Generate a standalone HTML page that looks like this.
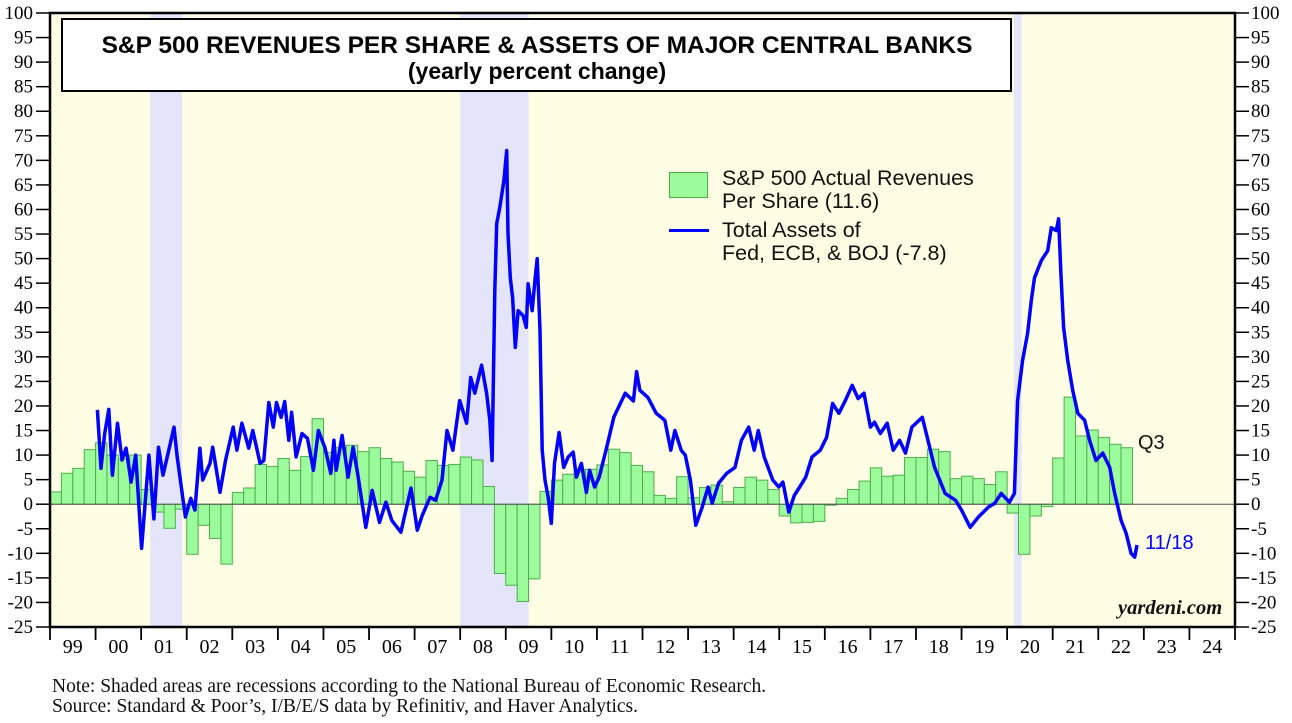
<!DOCTYPE html>
<html><head><meta charset="utf-8"><style>
html,body{margin:0;padding:0;background:#fff;}
svg{display:block;}
</style></head><body>
<svg id="chart" width="1292" height="723" viewBox="0 0 1292 723" xmlns="http://www.w3.org/2000/svg">
<g id="bg"></g>
<g id="bars"></g>
<g id="lines"></g>
<g id="axes"></g>
</svg>
<script>
const revQuarterly = [
 2.5,6.3,7.3,11.1, 12.5,10,9.2,10, 3,-1.6,-4.9,-1, -10.2,-4.3,-7,-12.2,
 2.4,3.3,8.1,7.7, 9.3,6.9,9.7,17.4, 10.5,11.5,12,10.7, 11.5,9.3,8.6,6.7,
 5.5,8.9,7.9,8.1, 9.6,9,3.6,-14.1, -16.5,-19.8,-15.2,2.6, 4.9,6.1,7.1,7.1,
 8,11.2,10.5,7.9, 6.6,1.8,1.2,5.6, 1.3,3.4,3.9,0.5, 3.4,5.5,4.9,3.0,
 -2.4,-3.8,-3.7,-3.5, -0.2,1.2,3.0,4.7, 7.4,5.7,5.9,9.5, 9.5,11.2,10.7,5.2,
 5.7,5.2,4.0,6.6, -1.8,-10.2,-2.4,-0.5, 9.4,21.8,13.9,15.1, 13.6,12.2,11.5
];
const assetDates = [2000.04,2000.12,2000.2,2000.29,2000.37,2000.48,2000.58,2000.67,2000.78,2000.88,2001.01,2001.17,2001.28,2001.38,2001.48,2001.63,2001.72,2001.79,2001.97,2002.09,2002.18,2002.29,2002.35,2002.51,2002.57,2002.73,2002.85,2003.02,2003.1,2003.21,2003.36,2003.45,2003.61,2003.69,2003.8,2003.9,2003.97,2004.07,2004.15,2004.24,2004.3,2004.4,2004.53,2004.65,2004.78,2004.89,2005.03,2005.16,2005.23,2005.28,2005.41,2005.54,2005.65,2005.75,2005.93,2006.07,2006.23,2006.37,2006.5,2006.7,2006.92,2007.06,2007.17,2007.34,2007.46,2007.6,2007.71,2007.84,2007.99,2008.14,2008.23,2008.32,2008.47,2008.58,2008.65,2008.7,2008.76,2008.8,2008.87,2008.96,2009.02,2009.05,2009.1,2009.15,2009.21,2009.27,2009.38,2009.45,2009.49,2009.58,2009.64,2009.69,2009.75,2009.8,2009.86,2009.93,2010.0,2010.07,2010.17,2010.27,2010.37,2010.48,2010.55,2010.66,2010.77,2010.84,2010.95,2011.05,2011.2,2011.37,2011.62,2011.8,2011.87,2011.94,2012.12,2012.3,2012.49,2012.62,2012.71,2012.85,2012.94,2013.05,2013.17,2013.31,2013.44,2013.53,2013.67,2013.85,2014.03,2014.17,2014.33,2014.45,2014.54,2014.67,2014.86,2014.99,2015.08,2015.21,2015.33,2015.45,2015.58,2015.72,2015.9,2016.04,2016.17,2016.31,2016.45,2016.6,2016.73,2016.86,2017.0,2017.09,2017.22,2017.37,2017.5,2017.64,2017.77,2017.91,2018.14,2018.28,2018.41,2018.64,2018.87,2019.0,2019.19,2019.37,2019.59,2019.73,2019.87,2020.05,2020.16,2020.23,2020.34,2020.45,2020.53,2020.6,2020.75,2020.89,2020.97,2021.08,2021.13,2021.18,2021.24,2021.33,2021.44,2021.55,2021.7,2021.81,2021.95,2022.1,2022.25,2022.36,2022.5,2022.61,2022.72,2022.8,2022.85];
const assetValues = [19.2,7.3,14.4,19.3,5.9,16.5,9,11.4,4.5,10,-9,10,-3,11.6,5.9,12,15.7,9.6,-2.6,1.2,-1.2,11.4,4.9,8.3,11.6,2.4,8.9,15.7,11,16.5,11.4,15,8.3,8.9,20.7,15.7,20.7,17.7,20.9,13,18.7,9.6,14.4,13.4,6.9,15,11.6,6.3,13,6.9,14,5.5,11.6,6.3,-4.7,2.8,-3.7,0.4,-3.3,-5.7,3.3,-5.3,-2.2,1.4,0.8,4.9,15,11,21.1,16.5,25.8,22.6,28.3,22.6,17.1,8.9,43.5,57.1,60.4,65.9,72,55.1,46.1,42.1,31.9,39.4,38.4,36,44.9,39.4,45.5,50,35.4,11,4.9,1.4,-3.9,8.3,14.6,7.5,9.6,10.6,5.5,8.3,2.4,6.9,3.5,5.5,11,17.7,22.6,21,27,23.2,21.7,18.5,17.1,11,15,11,10,4.9,-4.3,-0.6,3.5,0.2,4.3,6.3,7.5,13,15.7,11,15,9.6,4.9,3.5,4.5,-1.6,1.8,3.5,5.5,9.6,11,13.6,20.5,18.5,21.1,24.2,21.5,22.6,15.7,16.7,14.4,16.5,11,13,10.4,15.7,17.7,12.4,7.5,2.2,0.8,-1.2,-4.7,-2.6,-0.6,0.2,2.2,0.4,2.2,21.1,29.3,34.8,41.5,46.1,49.6,51.6,56.3,55.7,58.1,47,36,29.3,23.2,18.5,17.1,13,8.9,10.4,7.5,2.2,-3.3,-5.9,-10,-10.8,-8.3];
const recessionStarts = [2001.2, 2008.0, 2020.15];
const recessionEnds = [2001.9, 2009.5, 2020.32];
const yTicks = [100,95,90,85,80,75,70,65,60,55,50,45,40,35,30,25,20,15,10,5,0,-5,-10,-15,-20,-25];
const yearLabels = ["99","00","01","02","03","04","05","06","07","08","09","10","11","12","13","14","15","16","17","18","19","20","21","22","23","24"];

const NS="http://www.w3.org/2000/svg";
const L=50,R=1235,T=13,B=627,Y0=1999,Y1=2025,VMIN=-25,VMAX=100;
const xs=t=>L+(t-Y0)/(Y1-Y0)*(R-L);
const ys=v=>B-(v-VMIN)/(VMAX-VMIN)*(B-T);
function mk(tag,attrs,parent){const e=document.createElementNS(NS,tag);for(const k in attrs)e.setAttribute(k,attrs[k]);parent.appendChild(e);return e;}
const bg=document.getElementById('bg'),bars=document.getElementById('bars'),lines=document.getElementById('lines'),axes=document.getElementById('axes');

let r=mk('rect',{x:L,y:T,width:R-L,height:B-T,fill:'#fffde4'},bg);


recessionStarts.forEach((s,i)=>{
 const e=mk('rect',{x:xs(s),y:T,width:xs(recessionEnds[i])-xs(s),height:B-T,fill:'#e4e4fb'},bg);
 
 
});
let tb=mk('rect',{x:62,y:19,width:949,height:72,fill:'#fff',stroke:'#000','stroke-width':2},bg);


let t1=mk('text',{x:537,y:53,'text-anchor':'middle','font-family':'Liberation Sans, sans-serif','font-weight':'bold','font-size':24.5},bg);
t1.textContent='S&P 500 REVENUES PER SHARE & ASSETS OF MAJOR CENTRAL BANKS';


let t2=mk('text',{x:537,y:79,'text-anchor':'middle','font-family':'Liberation Sans, sans-serif','font-weight':'bold','font-size':23},bg);
t2.textContent='(yearly percent change)';



const qw=(xs(2000)-xs(1999))/4;
revQuarterly.forEach((v,i)=>{
 const t=Y0+i*0.25;const y=ys(Math.max(v,0)),h=Math.abs(ys(v)-ys(0));
 const e=mk('rect',{x:xs(t),y:y,width:qw,height:h,fill:'#9cfc9c',stroke:'#4cae4c','stroke-width':1},bars);
 
 
});
let zl=mk('line',{x1:L,x2:R,y1:ys(0),y2:ys(0),stroke:'#555','stroke-width':1},bars);



const d=assetDates.map((t,i)=>(i?'L':'M')+xs(t).toFixed(1)+','+ys(assetValues[i]).toFixed(1)).join(' ');
let pl=mk('path',{d:d,fill:'none',stroke:'#0000ff','stroke-width':3.5,'stroke-linejoin':'round'},lines);



let bd=mk('rect',{x:L,y:T,width:R-L,height:B-T,fill:'none',stroke:'#000','stroke-width':2.5},axes);


yTicks.forEach(v=>{
 const y=ys(v);
 mk('line',{x1:36,x2:L,y1:y,y2:y,stroke:'#000','stroke-width':1.5},axes);
 mk('line',{x1:R,x2:R+14,y1:y,y2:y,stroke:'#000','stroke-width':1.5},axes);
 const a=mk('text',{x:33,y:y+6,'text-anchor':'end','font-family':'Liberation Serif, serif','font-size':19},axes);
 a.textContent=v;
 
 
 const b=mk('text',{x:R+16,y:y+6,'text-anchor':'start','font-family':'Liberation Serif, serif','font-size':19},axes);
 b.textContent=v;
 
 
});
yearLabels.forEach((lab,i)=>{
 const x0=xs(Y0+i);
 mk('line',{x1:x0,x2:x0,y1:B,y2:B+13,stroke:'#000','stroke-width':1.8},axes);
 const t=mk('text',{x:x0+(xs(2000)-xs(1999))/2,y:B+26,'text-anchor':'middle','font-family':'Liberation Serif, serif','font-size':20},axes);
 t.textContent=lab;
 
 
});
mk('line',{x1:R,x2:R,y1:B,y2:B+13,stroke:'#000','stroke-width':1.8},axes);
</script>
<div style="position:absolute;left:0;top:0;width:1292px;height:723px;pointer-events:none;font-family:'Liberation Sans',sans-serif;">
 <div style="position:absolute;left:669px;top:172px;width:39px;height:26px;background:#9cfc9c;border:1px solid #4cae4c;box-sizing:border-box;"></div>
 <div style="position:absolute;left:722px;top:167px;font-size:21.5px;line-height:23px;color:#111;">S&amp;P 500 Actual Revenues<br>Per Share (11.6)</div>
 <div style="position:absolute;left:669px;top:229px;width:40px;height:3px;background:#0000ff;"></div>
 <div style="position:absolute;left:722px;top:219px;font-size:21.5px;line-height:23px;color:#111;">Total Assets of<br>Fed, ECB, &amp; BOJ (-7.8)</div>
 <div style="position:absolute;left:1138px;top:432px;font-size:20px;color:#111;">Q3</div>
 <div style="position:absolute;left:1145px;top:532px;font-size:20px;color:#0000ff;">11/18</div>
 <div style="position:absolute;left:1118px;top:597px;font-family:'Liberation Serif',serif;font-style:italic;font-weight:bold;font-size:20.5px;color:#111;">yardeni.com</div>
 <div style="position:absolute;left:52px;top:677px;font-family:'Liberation Serif',serif;font-size:19.5px;line-height:20px;color:#111;">Note: Shaded areas are recessions according to the National Bureau of Economic Research.<br>Source: Standard &amp; Poor’s, I/B/E/S data by Refinitiv, and Haver Analytics.</div>
</div>
</body></html>
